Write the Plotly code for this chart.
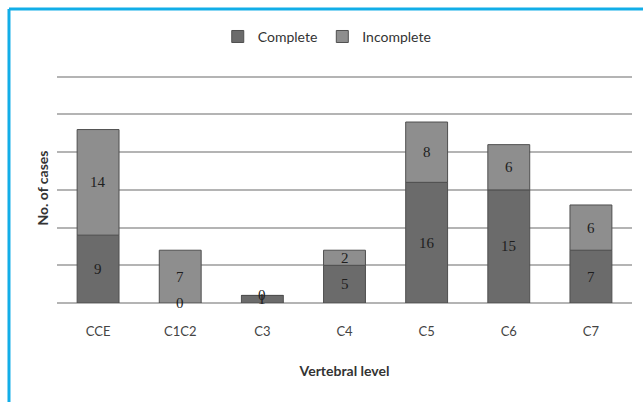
import plotly.graph_objects as go

# Cases by vertebral level, split by injury type
levels = ["CCE", "C1C2", "C3", "C4", "C5", "C6", "C7"]
complete = [9, 0, 1, 5, 16, 15, 7]
incomplete = [14, 7, 0, 2, 8, 6, 6]

COMPLETE_COLOR = "#6b6b6b"
INCOMPLETE_COLOR = "#8e8e8e"
EDGE_COLOR = "#4f4f4f"

fig = go.Figure()
fig.add_trace(go.Bar(
    x=levels, y=complete, name="Complete",
    marker=dict(color=COMPLETE_COLOR, line=dict(color=EDGE_COLOR, width=1)),
))
fig.add_trace(go.Bar(
    x=levels, y=incomplete, name="Incomplete",
    base=complete,
    marker=dict(color=INCOMPLETE_COLOR, line=dict(color=EDGE_COLOR, width=1)),
))

# Segment value labels, centred in each stacked piece
label_font = dict(family="Liberation Serif, DejaVu Serif, serif", size=15, color="#1e1e1e")
annotations = []
for lvl, c, i in zip(levels, complete, incomplete):
    annotations.append(dict(x=lvl, y=c / 2, text=str(c), showarrow=False,
                            xref="x", yref="y", font=label_font))
    annotations.append(dict(x=lvl, y=c + i / 2, text=str(i), showarrow=False,
                            xref="x", yref="y", font=label_font))

# Light blue frame on the left and top edges
frame = [
    dict(type="line", xref="paper", yref="paper", x0=-0.0835, x1=1.03,
         y0=1.278, y1=1.278, line=dict(color="#12aee8", width=3)),
    dict(type="line", xref="paper", yref="paper", x0=-0.0835, x1=-0.0835,
         y0=1.278, y1=-0.45, line=dict(color="#12aee8", width=3)),
]

fig.update_layout(
    width=643, height=402,
    margin=dict(l=57, r=11, t=73, b=99, autoexpand=False),
    paper_bgcolor="white", plot_bgcolor="white",
    barmode="overlay", bargap=0.49,
    font=dict(family="Lato, Open Sans, sans-serif", size=12, color="#444444"),
    showlegend=True,
    legend=dict(orientation="h", x=0.47, y=1.157, xanchor="center", yanchor="middle",
                bgcolor="rgba(0,0,0,0)",
                font=dict(size=14, color="#333333"), itemwidth=30,
                traceorder="normal"),
    annotations=annotations,
    shapes=frame,
)
fig.update_xaxes(
    showgrid=False, showline=False,
    ticks="outside", ticklen=16, tickcolor="rgba(0,0,0,0)",
    tickfont=dict(size=13, color="#444444"),
    title=dict(text="<b>Vertebral level</b>", font=dict(size=14, color="#333333"), standoff=28),
)
fig.update_yaxes(
    range=[0, 30.5], dtick=5, showticklabels=False, ticks="",
    showgrid=True, gridcolor="#b4b4b4", gridwidth=1.5,
    zeroline=True, zerolinecolor="#b4b4b4", zerolinewidth=1.5,
    title=dict(text="<b>No. of cases</b>", font=dict(size=14, color="#333333"), standoff=4),
)

fig.write_html("out.html")
